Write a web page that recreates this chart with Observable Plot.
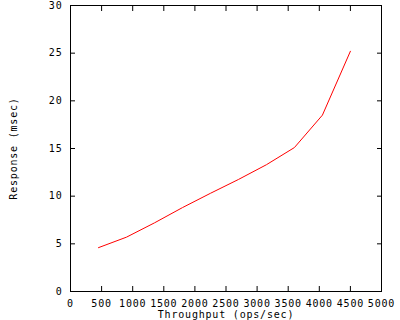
<!DOCTYPE html>
<html><head><meta charset="utf-8">
<script src="https://cdn.jsdelivr.net/npm/d3@7"></script>
<script src="https://cdn.jsdelivr.net/npm/@observablehq/plot@0.6"></script>
<style>body{margin:0;background:#fff}</style>
</head><body><div id="chart"></div>
<script>
const throughput = [450, 900, 1350, 1800, 2250, 2700, 3150, 3600, 4050, 4500];
const response = [4.6, 5.7, 7.2, 8.8, 10.3, 11.75, 13.3, 15.1, 18.5, 25.2];
const xTicks = [0, 500, 1000, 1500, 2000, 2500, 3000, 3500, 4000, 4500, 5000];
const yTicks = [0, 5, 10, 15, 20, 25, 30];
const xLabel = "Throughput (ops/sec)";
const yLabel = "Response (msec)";

const data = throughput.map((x, i) => ({x, y: response[i]}));
const font = "'DejaVu Sans Mono', monospace";

const chart = Plot.plot({
  width: 400, height: 320,
  marginLeft: 70, marginRight: 19, marginTop: 5, marginBottom: 29,
  style: {fontFamily: font, fontSize: "10px", background: "white", color: "black", letterSpacing: "0.8px", overflow: "visible"},
  x: {domain: [0, 5000]},
  y: {domain: [0, 30]},
  marks: [
    Plot.axisX(xTicks, {anchor: "bottom", tickSize: -5, fill: "none", label: null, stroke: "black"}),
    Plot.axisX(xTicks, {anchor: "top", tickSize: -5, fill: "none", label: null, stroke: "black"}),
    Plot.axisY(yTicks, {anchor: "left", tickSize: -5, fill: "none", label: null, stroke: "black"}),
    Plot.axisY(yTicks, {anchor: "right", tickSize: -5, fill: "none", label: null, stroke: "black"}),
    Plot.axisX(xTicks, {anchor: "bottom", tickSize: 0, tickPadding: 8, tickFormat: "d", fill: "black", label: xLabel, labelAnchor: "center", labelArrow: "none", labelOffset: 26}),
    Plot.axisY(yTicks, {anchor: "left", tickSize: 0, tickPadding: 8, tickFormat: "d", fill: "black", label: yLabel, labelAnchor: "center", labelArrow: "none", labelOffset: 61}),
    Plot.frame({stroke: "black", strokeWidth: 1}),
    Plot.line(data, {x: "x", y: "y", stroke: "red", strokeWidth: 1})
  ]
});
document.getElementById("chart").append(chart);
</script>
</body></html>
